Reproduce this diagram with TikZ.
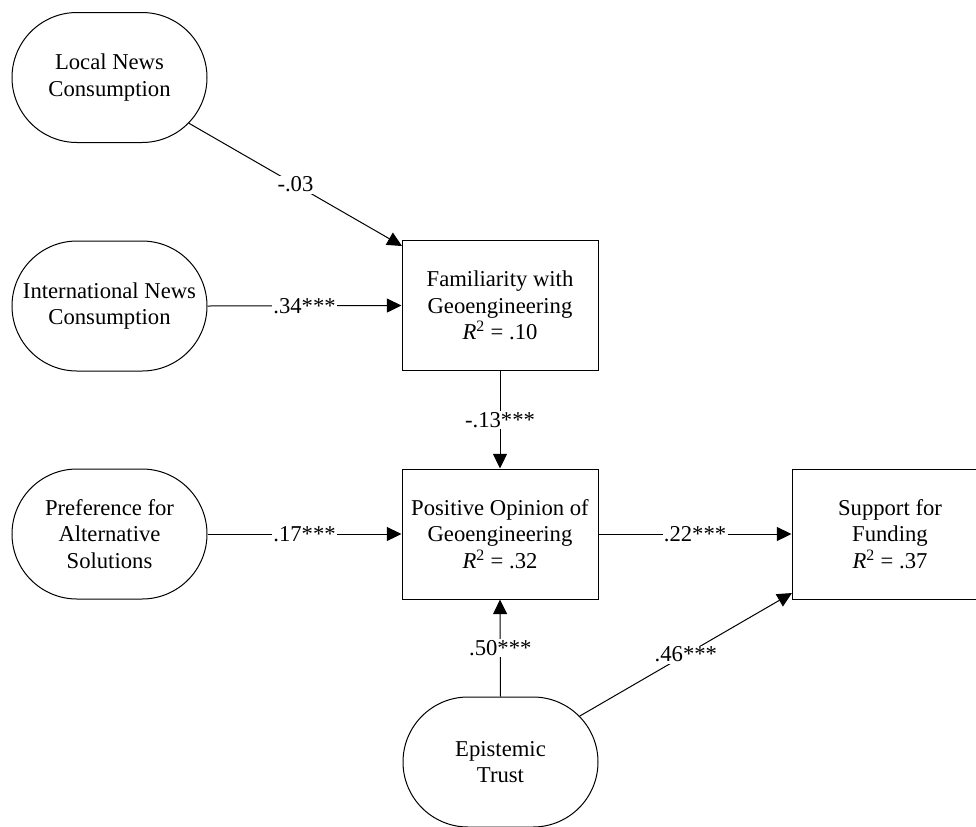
\documentclass[tikz,border=0pt]{standalone}
\usepackage{fontspec}
\setmainfont{Liberation Serif}
\usetikzlibrary{shapes.misc,arrows.meta}
\begin{document}
\begin{tikzpicture}[x=0.75pt,y=-0.75pt,
  font=\fontsize{17}{20}\selectfont,
  latent/.style={rounded rectangle, draw=black, line width=0.75pt, fill=white,
    minimum width=146.25pt, minimum height=97.5pt, inner sep=0pt, align=center},
  obs/.style={rectangle, draw=black, line width=0.75pt, fill=white,
    minimum width=147pt, minimum height=97.5pt, inner sep=0pt, align=center},
  path/.style={line width=0.75pt, -{Triangle[length=11pt,width=10.5pt]}},
  coef/.style={fill=white, inner sep=1pt, midway}
]
\useasboundingbox (0,0) rectangle (976,826);

\node[latent] (local) at (109.5,77.5) {Local News\\Consumption};
\node[latent] (intl) at (109.5,306) {International News\\Consumption};
\node[latent] (pref) at (109.5,534) {Preference for\\Alternative\\Solutions};
\node[obs] (fam) at (500,305.5) {Familiarity with\\Geoengineering\\\textit{R}\textsuperscript{2} = .10};
\node[obs] (pos) at (500,534) {Positive Opinion of\\Geoengineering\\\textit{R}\textsuperscript{2} = .32};
\node[obs] (sup) at (890,534) {Support for\\Funding\\\textit{R}\textsuperscript{2} = .37};
\node[latent] (epi) at (500.5,762) {Epistemic\\Trust};

\coordinate (famin) at (402,246);
\coordinate (supin) at (792,593);

\draw[path] (local) -- (famin) node[coef] {-.03};
\draw[path] (intl.east) -- (fam.west) node[coef] {.34***};
\draw[path] (fam.south) -- (pos.north) node[coef] {-.13***};
\draw[path] (pref.east) -- (pos.west) node[coef] {.17***};
\draw[path] (pos.east) -- (pos.east -| sup.west) node[coef] {.22***};
\draw[path] (epi.north) -- (pos.south) node[coef] {.50***};
\draw[path] (epi) -- (supin) node[coef] {.46***};
\end{tikzpicture}
\end{document}
